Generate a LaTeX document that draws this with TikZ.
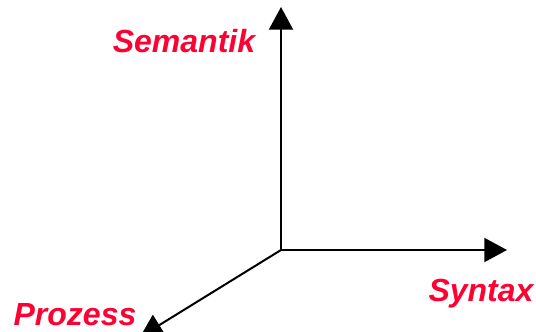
\documentclass[tikz,border=0pt]{standalone}
\usepackage{fontspec}
\setmainfont{Liberation Sans}
\usetikzlibrary{arrows.meta}
\definecolor{axisred}{RGB}{255,0,51}
\tikzset{
    axis/.style={line width=1.5pt,-{Triangle[length=17pt,width=18pt]}},
    axislabel/.style={text=axisred,anchor=base,inner sep=0pt,
        font=\fontsize{24}{28}\selectfont\bfseries\itshape}
}

\begin{document}
\begin{tikzpicture}[x=0.75pt,y=-0.75pt]
    \useasboundingbox (0,0) rectangle (536,332);
    \coordinate (O) at (281,250);
    \coordinate (S) at (281,7);
    \coordinate (X) at (507,250);
    \coordinate (P) at (140,337);
    \draw[axis] (O)--(S);
    \draw[axis] (O)--(X);
    \draw[axis] (O)--(P);
    \node[axislabel] (sem) at (184,52) {Semantik};
    \node[axislabel] (syn) at (481,301) {Syntax};
    \node[axislabel] (proz) at (75,325) {Prozess};
\end{tikzpicture}
\end{document}
